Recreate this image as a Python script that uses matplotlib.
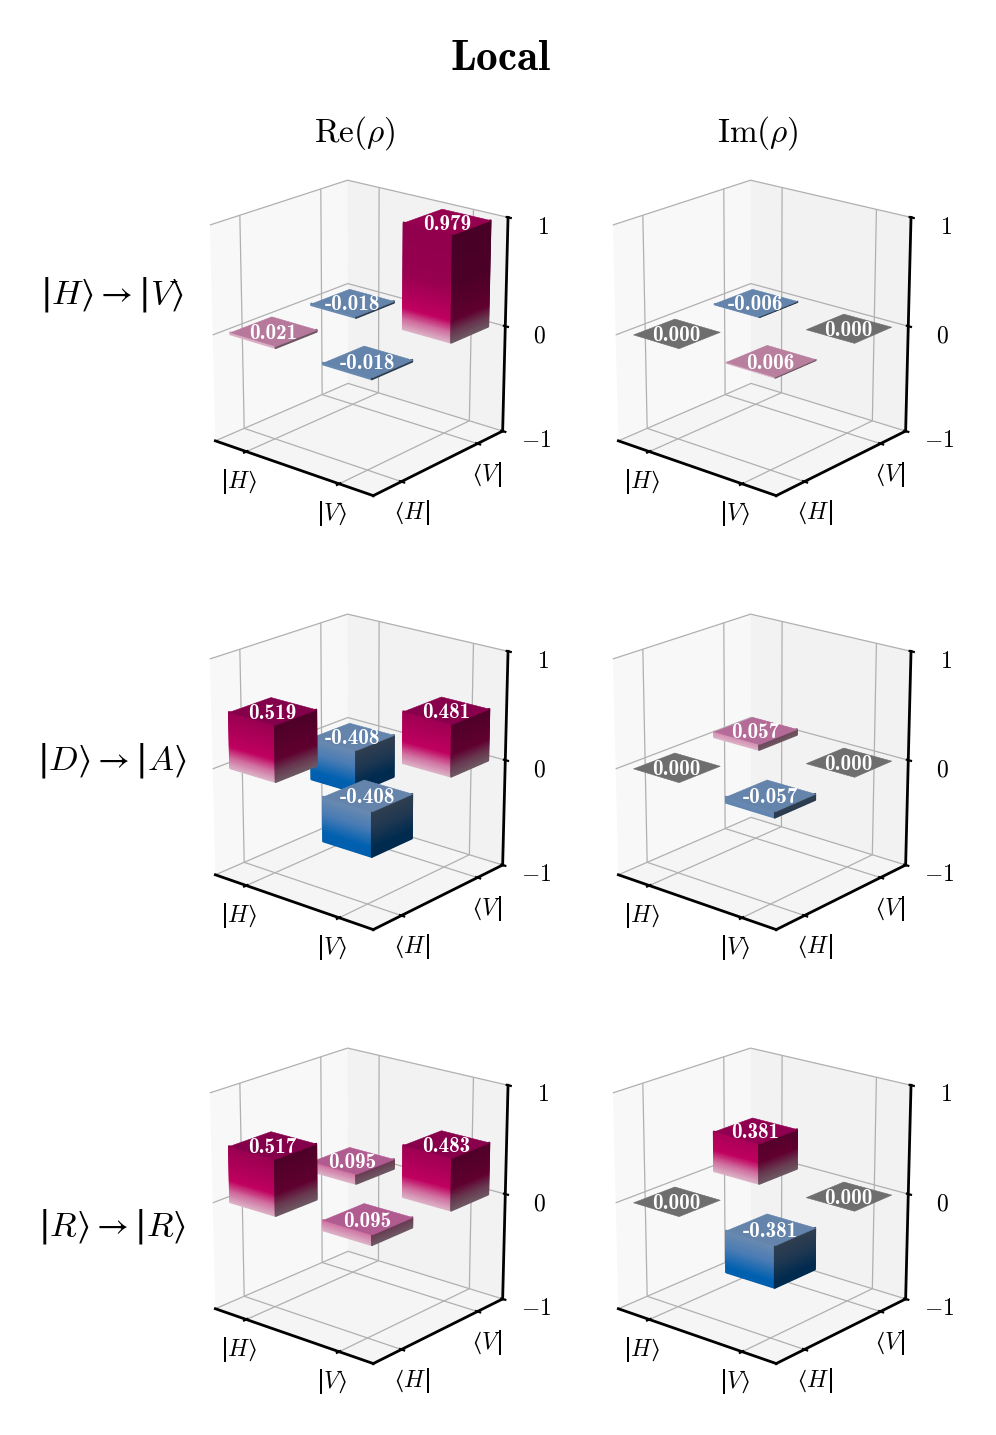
import matplotlib
matplotlib.use('Agg')
import matplotlib.pyplot as plt
import numpy as np
from matplotlib.colors import LinearSegmentedColormap, to_rgb
from mpl_toolkits.mplot3d.art3d import Poly3DCollection

plt.rcParams['mathtext.fontset'] = 'custom'
plt.rcParams['mathtext.rm'] = 'cmr10'
plt.rcParams['mathtext.it'] = 'cmmi10'
plt.rcParams['mathtext.bf'] = 'cmb10'
plt.rcParams['mathtext.sf'] = 'DejaVu Sans'
plt.rcParams['mathtext.fallback'] = 'stix'
plt.rcParams['font.family'] = ['cmr10', 'DejaVu Sans']
plt.rcParams['axes.formatter.use_mathtext'] = True
plt.rcParams['grid.linewidth'] = 0.45

row_labels = [r'$\mathsf{|}H\rangle \rightarrow \mathsf{|}V\rangle$', r'$\mathsf{|}D\rangle \rightarrow \mathsf{|}A\rangle$', r'$\mathsf{|}R\rangle \rightarrow \mathsf{|}R\rangle$']
col_titles = [r'$\mathrm{Re}(\rho)$', r'$\mathrm{Im}(\rho)$']
ket_labels = [r'$\mathsf{|}H\rangle$', r'$\mathsf{|}V\rangle$']
bra_labels = [r'$\langle H\mathsf{|}$', r'$\langle V\mathsf{|}$']
z_ticks = [-1, 0, 1]

# valores na ordem HH, HV, VH, VV
re_hv = [0.021, -0.018, -0.018, 0.979]
im_hv = [0.000, -0.006, 0.006, 0.000]
re_da = [0.519, -0.408, -0.408, 0.481]
im_da = [0.000, 0.057, -0.057, 0.000]
re_rr = [0.517, 0.095, 0.095, 0.483]
im_rr = [0.000, 0.381, -0.381, 0.000]
panels = [re_hv, im_hv, re_da, im_da, re_rr, im_rr]

pos_front = LinearSegmentedColormap.from_list('pf', [(0, '#dcb4c8'), (0.1, '#d070a0'), (0.21, '#c0005f'), (0.55, '#96004f'), (1, '#90004c')])
neg_front = LinearSegmentedColormap.from_list('nf', [(0, '#6a8ab0'), (0.15, '#4a7cb4'), (0.32, '#0060b0'), (1, '#0050a0')])
pos_top = LinearSegmentedColormap.from_list('pt', [(0, '#b8809f'), (0.1, '#b05a90'), (0.21, '#a00056'), (0.55, '#82004a'), (1, '#96004f')])


def shade(c, k):
    return tuple(k * v for v in to_rgb(c))


def draw_bar(ax, x, y, v, order, w=0.5):
    x0, x1 = x - w / 2, x + w / 2
    y0, y1 = y - w / 2, y + w / 2
    top = max(v, 0)
    if v == 0:
        top_col = '#6e6e6e'
    elif v > 0:
        top_col = pos_top(v)
    else:
        top_col = '#6484ab'
    n = max(int(abs(v) * 120), 1)
    edges = np.linspace(0, v, n + 1)
    if v != 0:
        front, right, cf, cr = [], [], [], []
        for a, b in zip(edges[:-1], edges[1:]):
            front.append([(x0, y0, a), (x1, y0, a), (x1, y0, b), (x0, y0, b)])
            right.append([(x1, y0, a), (x1, y1, a), (x1, y1, b), (x1, y0, b)])
            m = abs(a + b) / 2
            c = pos_front(m) if v > 0 else neg_front(m)
            cf.append(c)
            k = 0.5 if v > 0 else 0.45
            cr.append(shade(c[:3], k))
        for polys, cols in ((front, cf), (right, cr)):
            pc = Poly3DCollection(polys, facecolors=cols, edgecolors=cols, linewidths=0.6)
            pc.set_zorder(order)
            ax.add_collection3d(pc)
    t = Poly3DCollection([[(x0, y0, top), (x1, y0, top), (x1, y1, top), (x0, y1, top)]], facecolors=[top_col], edgecolors=[top_col], linewidths=0.2)
    t.set_zorder(order + 0.5)
    ax.add_collection3d(t)
    txt = f'{v:.3f}'
    ax.text(x, y, top - 0.025, txt, family=['cmb10', 'DejaVu Sans'], fontsize=7.6, color='white', ha='center', va='center', zorder=20)


fig = plt.figure(figsize=(4.98, 7.175), dpi=200)
fig.text(0.503, 0.9585, r'$\mathbf{Local}$', fontsize=15.5, ha='center', va='center')

col_x = [0.161, 0.5656]
row_y = [0.611, 0.3086, 0.0062]
aw, ah = 0.39, 0.31
k = 0
for r in range(3):
    for c in range(2):
        ax = fig.add_axes([col_x[c], row_y[r], aw, ah], projection='3d', computed_zorder=False)
        ax.view_init(elev=20, azim=-50)
        ax.set_box_aspect((1, 1, 1.1), zoom=0.93)
        vals = panels[k]
        k += 1
        coords = [(0, 0), (0, 1), (1, 0), (1, 1)]
        for (x, y), v in sorted(zip(coords, vals), key=lambda p: p[0][0] - p[0][1]):
            draw_bar(ax, x, y, v, 5 + (x - y))
        ax.set_xlim(-0.35, 1.35)
        ax.set_ylim(-0.35, 1.35)
        ax.set_zlim(-1, 1)
        ax.set_xticks([0, 1])
        ax.set_xticklabels(ket_labels, fontsize=8.5)
        ax.set_yticks([0, 1])
        ax.set_yticklabels(bra_labels, fontsize=8.5)
        ax.set_zticks(z_ticks)
        ax.set_zticklabels(['$-1$', '$0$', '$1$'], fontsize=8.5)
        ax.tick_params(axis='x', pad=-4)
        ax.tick_params(axis='y', pad=-3.5)
        ax.tick_params(axis='z', pad=0.7)
        for axis in (ax.xaxis, ax.yaxis, ax.zaxis):
            axis.line.set_linewidth(1.0)
            axis.line.set_color('black')
            axis.pane.set_edgecolor('none')
        ax.patch.set_alpha(0)

for c, tx in enumerate([0.3565, 0.7605]):
    fig.text(tx, 0.907, col_titles[c], fontsize=12, ha='center', va='center', math_fontfamily='cm')

for r, y in enumerate([0.795, 0.470, 0.1455]):
    fig.text(0.112, y, row_labels[r], fontsize=12.5, ha='center', va='center')

plt.savefig('out.png', dpi=200)
